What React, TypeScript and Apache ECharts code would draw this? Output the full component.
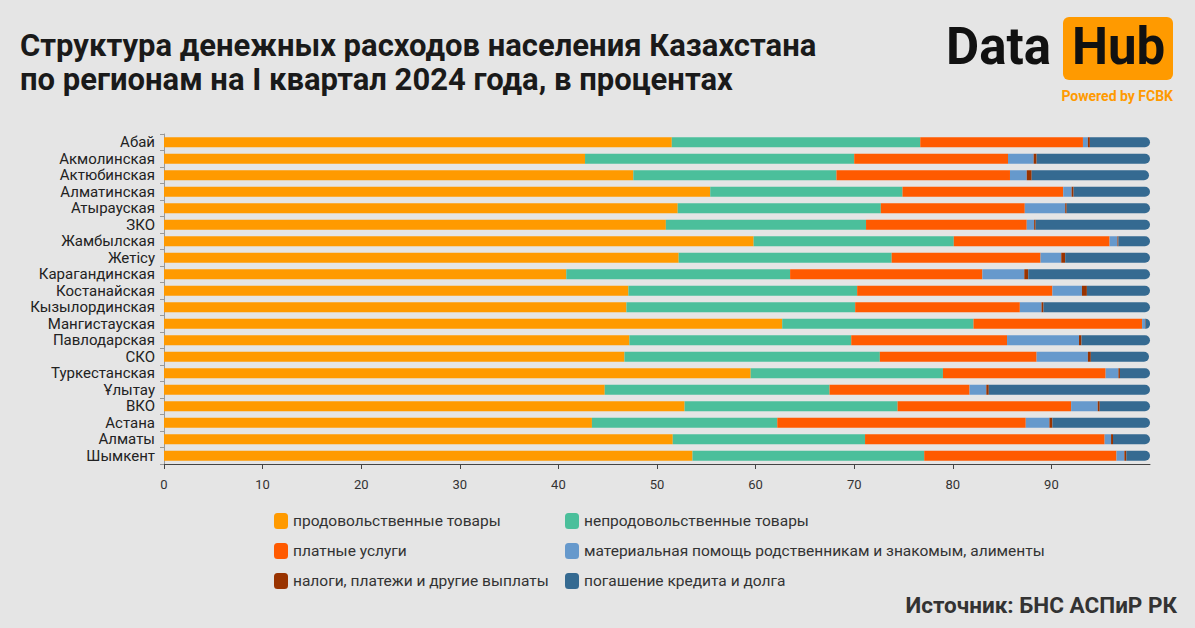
import React, { useEffect, useRef } from "react";
import * as echarts from "echarts";

const regions = [
  "Абай", "Акмолинская", "Актюбинская", "Алматинская", "Атырауская", "ЗКО",
  "Жамбылская", "Жетісу", "Карагандинская", "Костанайская", "Кызылординская",
  "Мангистауская", "Павлодарская", "СКО", "Туркестанская", "Ұлытау", "ВКО",
  "Астана", "Алматы", "Шымкент",
];

const food = [51.5, 42.7, 47.6, 55.4, 52.1, 50.9, 59.8, 52.2, 40.8, 47.1, 46.9, 62.7, 47.2, 46.7, 59.5, 44.7, 52.8, 43.4, 51.6, 53.6];
const nonFood = [25.2, 27.3, 20.6, 19.5, 20.6, 20.3, 20.3, 21.6, 22.7, 23.2, 23.2, 19.4, 22.5, 25.9, 19.5, 22.8, 21.6, 18.8, 19.5, 23.5];
const services = [16.5, 15.6, 17.6, 16.3, 14.6, 16.3, 15.8, 15.1, 19.5, 19.8, 16.7, 17.1, 15.8, 15.9, 16.5, 14.2, 17.6, 25.2, 24.3, 19.5];
const help = [0.5, 2.6, 1.7, 0.85, 4.1, 0.75, 0.8, 2.1, 4.25, 3.0, 2.2, 0.3, 7.3, 5.2, 1.3, 1.7, 2.7, 2.4, 0.65, 0.8];
const taxes = [0.2, 0.3, 0.5, 0.2, 0.15, 0.15, 0.1, 0.4, 0.4, 0.5, 0.2, 0.05, 0.25, 0.3, 0.15, 0.25, 0.2, 0.3, 0.2, 0.2];
const credit = [6.1, 11.5, 11.9, 7.75, 8.45, 11.6, 3.2, 8.6, 12.35, 6.4, 10.8, 0.45, 6.95, 5.9, 3.05, 16.35, 5.1, 9.9, 3.75, 2.4];

const seriesNames = [
  "продовольственные товары",
  "непродовольственные товары",
  "платные услуги",
  "материальная помощь родственникам и знакомым, алименты",
  "налоги, платежи и другие выплаты",
  "погашение кредита и долга",
];
const colors = ["#ff9a00", "#4bbf9b", "#ff5a00", "#6699cc", "#993300", "#356a91"];
const xTicks = [0, 10, 20, 30, 40, 50, 60, 70, 80, 90, 100];

export default function App() {
  const ref = useRef<HTMLDivElement>(null);
  useEffect(() => {
    if (!ref.current) return;
    const chart = echarts.init(ref.current, null, { renderer: "svg" });
    const datasets = [food, nonFood, services, help, taxes, credit];
    const legendCommon = {
      orient: "vertical",
      top: 508,
      itemGap: 14,
      itemWidth: 14,
      itemHeight: 16,
      icon: "roundRect",
      textStyle: { color: "#333", fontSize: 15.5, lineHeight: 16 },
    };
    chart.setOption({
      animation: false,
      backgroundColor: "#e5e5e5",
      textStyle: { fontFamily: "Roboto" },
      grid: { left: 164, right: 45, top: 134, height: 330 },
      xAxis: {
        type: "value",
        min: xTicks[0],
        max: xTicks[xTicks.length - 1],
        interval: 10,
        axisLine: { show: true, lineStyle: { color: "#444", width: 1 } },
        axisTick: { show: true, length: 5, lineStyle: { color: "#444" } },
        splitLine: { show: false },
        axisLabel: { color: "#333", fontSize: 13, margin: 14, showMaxLabel: false },
      },
      yAxis: {
        type: "category",
        data: regions,
        inverse: true,
        axisLine: { show: true, lineStyle: { color: "#999" } },
        axisTick: { show: true, length: 4, interval: 0, lineStyle: { color: "#999" } },
        axisLabel: { color: "#222", fontSize: 15, lineHeight: 15, margin: 9, interval: 0 },
      },
      legend: [
        { ...legendCommon, left: 269, data: [seriesNames[0], seriesNames[2], seriesNames[4]] },
        { ...legendCommon, left: 560, data: [seriesNames[1], seriesNames[3], seriesNames[5]] },
      ],
      series: datasets.map((d, i) => ({
        type: "bar",
        name: seriesNames[i],
        stack: "total",
        data: d,
        barWidth: 10,
        itemStyle: {
          color: colors[i],
          borderRadius: i === datasets.length - 1 ? [0, 5, 5, 0] : 0,
        },
      })),
      graphic: [
        {
          type: "text",
          left: 20,
          top: 28,
          style: {
            text: "Структура денежных расходов населения Казахстана\nпо регионам на I квартал 2024 года, в процентах",
            font: "bold 31px Roboto",
            fill: "#1a1a1a",
            lineHeight: 34,
          },
        },
        {
          type: "text",
          left: 946,
          top: 21,
          style: { text: "Data", font: "bold 51px Roboto", fill: "#111" },
        },
        {
          type: "rect",
          shape: { x: 1063, y: 17, width: 110, height: 63, r: 6 },
          style: { fill: "#ff9a00" },
        },
        {
          type: "text",
          left: 1072,
          top: 21,
          style: { text: "Hub", font: "bold 51px Roboto", fill: "#111" },
        },
        {
          type: "text",
          right: 22,
          top: 89,
          style: { text: "Powered by FCBK", font: "bold 14px Roboto", fill: "#ff9a00" },
        },
        {
          type: "text",
          right: 18,
          top: 593,
          style: { text: "Источник: БНС АСПиР РК", font: "bold 22.5px Roboto", fill: "#333" },
        },
      ],
    });
    return () => chart.dispose();
  }, []);
  return (
    <div
      ref={ref}
      style={{ position: "fixed", left: 0, top: 0, width: 1195, height: 628 }}
    />
  );
}
